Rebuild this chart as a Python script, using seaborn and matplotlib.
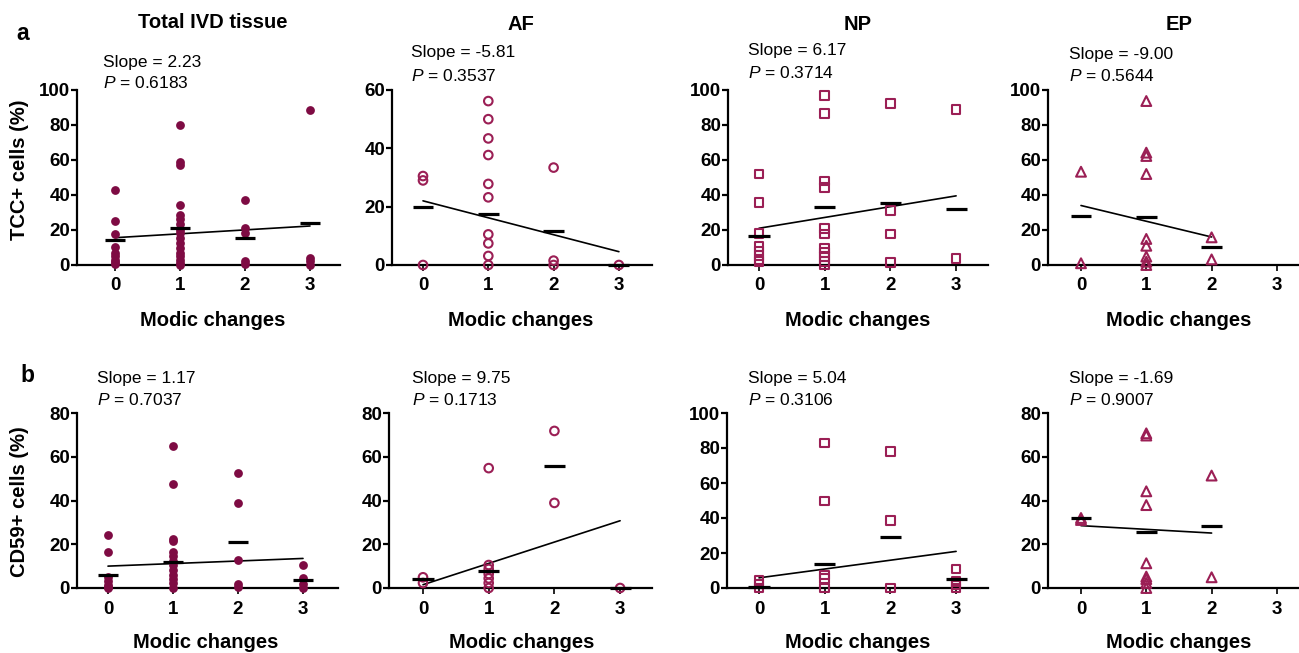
import numpy as np
import pandas as pd
import matplotlib
matplotlib.use("Agg")
import matplotlib.pyplot as plt
import matplotlib.transforms as mtransforms
import seaborn as sns

# ---------------- data ----------------
modic = [0, 1, 2, 3]
tick_labels = ["0", "1", "2", "3"]

tcc_total = [[43, 25, 17.5, 10, 7, 5, 3, 1.5, 0.5],
             [80, 59, 57, 34.5, 28.5, 26, 23.5, 20, 18, 15.5, 12.5, 9.5, 7, 5, 3, 1, 0],
             [37, 21, 18.5, 2.5, 0.5],
             [88.5, 4, 2.5, 0]]
tcc_total_mean = [14.3, 21.1, 15.4, 24.2]

tcc_af = [[30.5, 29, 0],
          [56.2, 50, 43.4, 37.7, 27.8, 23.2, 10.5, 7.4, 3.1, 0],
          [33.4, 1.5, 0],
          [0]]
tcc_af_mean = [20, 17.4, 11.8, 0]

tcc_np = [[52, 35.6, 18, 10.5, 8, 5.5, 3.2, 1.9],
          [97, 86.7, 48, 44.4, 21, 17.7, 9.5, 7.2, 4.8, 1.9, 0],
          [92.4, 31, 17.7, 1.5],
          [89, 3.8]]
tcc_np_mean = [16.6, 33, 35.6, 32]

tcc_ep = [[53.3, 1],
          [93.7, 64.2, 62.3, 52, 14.9, 11, 4.8, 1.9, 0],
          [15.8, 3.2],
          []]
tcc_ep_mean = [28, 27.2, 10.1, None]

cd59_total = [[24.4, 16.3, 5, 3, 1.5, 0.5, 0],
              [65.1, 47.7, 22.6, 21.3, 16.3, 14.5, 12.2, 10.7, 8.4, 6.1, 4.1, 2.3, 0],
              [52.6, 38.9, 12.6, 2, 0.3],
              [10.7, 4.6, 2, 0]]
cd59_total_mean = [6.1, 11.9, 21, 3.8]

cd59_af = [[4.9, 2.3],
           [54.8, 10.5, 8.7, 6.4, 4.4, 2.3, 0],
           [71.8, 38.9],
           [0]]
cd59_af_mean = [4.1, 7.6, 55.7, 0]

cd59_np = [[4.2, 2.3, 0],
           [82.9, 49.7, 7.4, 5.5, 0],
           [78.2, 38.7, 0],
           [10.8, 3.8, 1.7, 0]]
cd59_np_mean = [0.8, 13.9, 29.2, 5.1]

cd59_ep = [[32, 31.1],
           [70.7, 69.7, 44.2, 37.9, 11.3, 5.2, 4.1, 2.3, 0],
           [51.4, 4.9],
           []]
cd59_ep_mean = [31.9, 25.8, 28.5, None]

titles = ["Total IVD tissue", "AF", "NP", "EP"]
slopes_a = ["2.23", "-5.81", "6.17", "-9.00"]
pvals_a = ["0.6183", "0.3537", "0.3714", "0.5644"]
slopes_b = ["1.17", "9.75", "5.04", "-1.69"]
pvals_b = ["0.7037", "0.1713", "0.3106", "0.9007"]

# regression line: intercept, slope, last x
reg_a = [(15.6, 2.23, 3), (22.0, -5.81, 3), (21.0, 6.17, 3), (34.0, -9.00, 2)]
reg_b = [(10.0, 1.17, 3), (1.5, 9.75, 3), (5.8, 5.04, 3), (28.5, -1.69, 2)]

ymax_a = [100, 60, 100, 100]
ymax_b = [80, 80, 100, 80]

# ---------------- style ----------------
sns.set_style("ticks")
plt.rcParams["font.family"] = ["Liberation Sans", "DejaVu Sans"]
plt.rcParams["mathtext.fontset"] = "custom"
plt.rcParams["mathtext.rm"] = "Liberation Sans"
plt.rcParams["mathtext.it"] = "Liberation Sans:italic"
for k in ["text.color", "axes.labelcolor", "xtick.color", "ytick.color", "axes.edgecolor"]:
    plt.rcParams[k] = "black"

FILL = "#7e0b43"
OPEN = "#9b1f55"

W, H = 1299, 653
fig = plt.figure(figsize=(W / 100, H / 100), dpi=100)

# layout in pixels: (axes left, x=0 pixel, unit px, axes right)
lay_a = [(77, 115, 65.0, 340), (392, 423, 65.3, 652), (728, 759, 65.7, 988), (1048, 1081, 65.3, 1299)]
lay_b = [(77, 108, 65.0, 338), (389, 423, 65.7, 652), (727, 759, 65.7, 988), (1048, 1081, 65.3, 1299)]
rows = [
    dict(top=90, bottom=265, lay=lay_a,
         data=[tcc_total, tcc_af, tcc_np, tcc_ep],
         means=[tcc_total_mean, tcc_af_mean, tcc_np_mean, tcc_ep_mean],
         reg=reg_a, ymax=ymax_a, slopes=slopes_a, pvals=pvals_a,
         text_x=[103, 411, 748, 1069], text_y=[(62, 83), (53, 76), (51, 73), (54, 76)],
         title_y=[22, 25, 25, 25], xlab_y=320, ylabel="TCC+ cells (%)", ylab_y=170,
         letter="a", letter_xy=(23, 33)),
    dict(top=413, bottom=588, lay=lay_b,
         data=[cd59_total, cd59_af, cd59_np, cd59_ep],
         means=[cd59_total_mean, cd59_af_mean, cd59_np_mean, cd59_ep_mean],
         reg=reg_b, ymax=ymax_b, slopes=slopes_b, pvals=pvals_b,
         text_x=[97, 412, 748, 1069], text_y=[(378, 400)] * 4,
         title_y=None, xlab_y=642, ylabel="CD59+ cells (%)", ylab_y=502,
         letter="b", letter_xy=(27, 375)),
]
markers = ["o", "o", "s", "^"]
msizes = [40, 38, 40, 50]

for r, row in enumerate(rows):
    for c in range(4):
        left, x0, unit, right = row["lay"][c]
        ax = fig.add_axes([left / W, 1 - row["bottom"] / H,
                           (right - left) / W, (row["bottom"] - row["top"]) / H])
        groups = row["data"][c]
        df = pd.DataFrame({
            "modic": [m for m, g in zip(modic, groups) for _ in g],
            "value": [v for g in groups for v in g],
        })
        filled = (c == 0)
        sns.scatterplot(data=df, x="modic", y="value", ax=ax, marker=markers[c],
                        s=msizes[c], color=FILL if filled else OPEN,
                        linewidth=0 if filled else 1.5, clip_on=False, zorder=4,
                        legend=False)
        coll = ax.collections[-1]
        if not filled:
            coll.set_facecolor("none")
            coll.set_edgecolor(OPEN)
        # mean bars
        for m, mv in zip(modic, row["means"][c]):
            if mv is None:
                continue
            ax.hlines(mv, m - 0.16, m + 0.16, color="black", lw=2.3, zorder=5,
                      clip_on=False)
        # regression line
        b0, b1, xe = row["reg"][c]
        reg_df = pd.DataFrame({"x": [0, xe], "y": [b0, b0 + b1 * xe]})
        sns.lineplot(data=reg_df, x="x", y="y", ax=ax, color="black", lw=1.2,
                     zorder=3)
        ax.set_xlim((left - x0) / unit, (right - x0) / unit)
        ax.set_ylim(0, row["ymax"][c])
        ax.set_yticks(np.arange(0, row["ymax"][c] + 1, 20))
        ax.set_xticks(modic)
        ax.set_xticklabels(tick_labels)
        ax.set_xlabel("")
        ax.set_ylabel("")
        sns.despine(ax=ax)
        for s in ["left", "bottom"]:
            ax.spines[s].set_linewidth(1.6)
            ax.spines[s].set_color("black")
        ax.tick_params(axis="y", length=4, width=1.6, pad=1, labelsize=13.5, colors="black")
        ax.tick_params(axis="x", length=4, width=1.2, pad=5, labelsize=13.5, colors="black")
        for lab in ax.get_xticklabels() + ax.get_yticklabels():
            lab.set_fontweight("bold")

        # slope / P text
        tx = row["text_x"][c] / W
        ty1, ty2 = row["text_y"][c]
        fig.text(tx, 1 - ty1 / H, "Slope = " + row["slopes"][c], fontsize=12.5,
                 ha="left", va="center")
        fig.text(tx, 1 - ty2 / H, r"$\mathit{P}$ = " + row["pvals"][c], fontsize=12.5,
                 ha="left", va="center")
        # x label
        trans = mtransforms.blended_transform_factory(ax.transData, fig.transFigure)
        ax.text(1.5, 1 - row["xlab_y"] / H, "Modic changes", transform=trans,
                ha="center", va="center", fontsize=14.5, fontweight="bold", clip_on=False)
        if row["title_y"] is not None:
            ax.text(1.5, 1 - row["title_y"][c] / H, titles[c], transform=trans,
                    ha="center", va="center", fontsize=14.5, fontweight="bold",
                    clip_on=False)
    fig.text(20 / W, 1 - row["ylab_y"] / H, row["ylabel"], rotation=90,
             ha="center", va="center", fontsize=14.5, fontweight="bold")
    lx, ly = row["letter_xy"]
    fig.text(lx / W, 1 - ly / H, row["letter"], ha="center", va="center",
             fontsize=16.5, fontweight="bold")

fig.savefig("out.png", dpi=100)
